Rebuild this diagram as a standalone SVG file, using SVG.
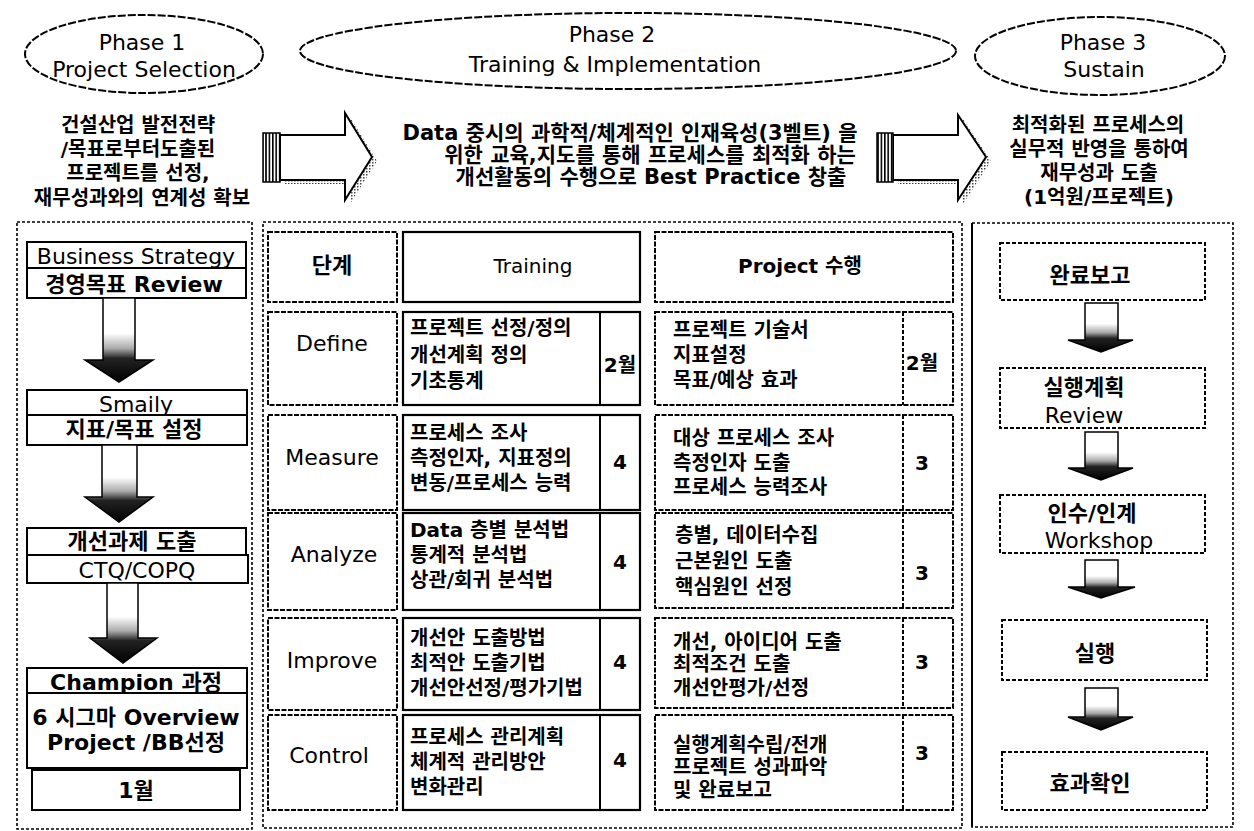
<svg xmlns="http://www.w3.org/2000/svg" width="1254" height="831" viewBox="0 0 1254 831">
<defs>
<style>
text{font-family:"DejaVu Sans","Noto Sans CJK KR",sans-serif;fill:#000;dominant-baseline:central}
.c{text-anchor:middle}
.k{font-weight:bold}
.f22{font-size:22px}
.f21{font-size:21px}
.f20{font-size:20px}
.ell{fill:#fff;stroke:#000;stroke-width:2;stroke-dasharray:8 2}
.outer{fill:none;stroke:#000;stroke-width:1.6;stroke-dasharray:3 2}
.bx{fill:#fff;stroke:#000;stroke-width:2}
.cell{fill:#fff;stroke:#000;stroke-width:2.2}
.dcell{fill:#fff;stroke:#000;stroke-width:2;stroke-dasharray:5 1.5}
.dbox{fill:#fff;stroke:#000;stroke-width:2;stroke-dasharray:4 2}
.darr{fill:url(#shaftGrad);stroke:#000;stroke-width:1.5}
.barr{fill:#fff;stroke:#000;stroke-width:2}
.bshadow{fill:url(#dots)}
.stripe{fill:url(#stripes);stroke:#000;stroke-width:1.5}
.ln{stroke:#000;stroke-width:2}
</style>
<linearGradient id="shaftGrad" x1="0" y1="0" x2="0" y2="1">
<stop offset="0" stop-color="#fff"/>
<stop offset="0.42" stop-color="#fff"/>
<stop offset="0.6" stop-color="#aaa"/>
<stop offset="0.72" stop-color="#222"/>
<stop offset="1" stop-color="#000"/>
</linearGradient>
<pattern id="dots" width="3" height="3" patternUnits="userSpaceOnUse"><rect width="1.5" height="1.5" fill="#444"/></pattern>
<pattern id="stripes" width="3.4" height="4" patternUnits="userSpaceOnUse"><rect width="3.4" height="4" fill="#fff"/><rect width="1.6" height="4" fill="#000"/></pattern>
</defs>
<rect width="1254" height="831" fill="#fff"/>

<!-- Phase headers -->
<g id="phase1">
<ellipse class="ell" cx="144" cy="54" rx="119" ry="39"/>
<text class="c f22" x="142" y="42">Phase 1</text>
<text class="c f22" x="144" y="69">Project Selection</text>
</g>
<g id="phase2">
<ellipse class="ell" cx="628" cy="51" rx="328" ry="38"/>
<text class="c f22" x="612" y="34">Phase 2</text>
<text class="c f22" x="615" y="64">Training &amp; Implementation</text>
</g>
<g id="phase3">
<ellipse class="ell" cx="1100" cy="56" rx="125" ry="39"/>
<text class="c f22" x="1103" y="42">Phase 3</text>
<text class="c f22" x="1104" y="69">Sustain</text>
</g>

<!-- Descriptions -->
<g id="desc1">
<text class="c k f20" x="138" y="125">건설산업 발전전략</text>
<text class="c k f20" x="138" y="149">/목표로부터도출된</text>
<text class="c k f20" x="138" y="173">프로젝트를 선정,</text>
<text class="c k f20" x="142" y="198">재무성과와의 연계성 확보</text>
</g>
<g id="desc2">
<text class="c k f21" x="630" y="133">Data 중시의 과학적/체계적인 인재육성(3벨트) 을</text>
<text class="c k f21" x="650" y="155">위한 교육,지도를 통해 프로세스를 최적화 하는</text>
<text class="c k f21" x="651" y="177">개선활동의 수행으로 Best Practice 창출</text>
</g>
<g id="desc3">
<text class="c k f20" x="1098" y="125">최적화된 프로세스의</text>
<text class="c k f20" x="1099" y="149">실무적 반영을 통하여</text>
<text class="c k f20" x="1099" y="173">재무성과 도출</text>
<text class="c k f20" x="1099" y="197">(1억원/프로젝트)</text>
</g>

<!-- Outer panels -->
<rect id="panel1" class="outer" x="17" y="222" width="235" height="607"/>
<rect id="panel2" class="outer" x="263" y="222" width="699" height="606"/>
<rect id="panel3" class="outer" x="972" y="223" width="261" height="604"/>
<line class="ln" x1="972" y1="223" x2="972" y2="827"/>

<!-- Left column nodes -->
<g id="bizStrategy">
<rect class="bx" x="27" y="242" width="219" height="26"/>
<rect class="bx" x="27" y="268" width="219" height="30"/>
<text class="c f22" x="136" y="256">Business Strategy</text>
<text class="c k f22" x="134" y="284">경영목표 Review</text>
</g>
<g id="smaily">
<rect class="bx" x="27" y="390" width="220" height="25"/>
<rect class="bx" x="27" y="415" width="220" height="30"/>
<text class="c f22" x="136" y="404">Smaily</text>
<text class="c k f22" x="134" y="429">지표/목표 설정</text>
</g>
<g id="improveTask">
<rect class="bx" x="27" y="528" width="219" height="27"/>
<rect class="bx" x="27" y="555" width="221" height="28"/>
<text class="c k f22" x="132" y="541">개선과제 도출</text>
<text class="c f22" x="137" y="570">CTQ/COPQ</text>
</g>
<g id="champion">
<rect class="bx" x="27" y="668" width="220" height="25"/>
<rect class="bx" x="27" y="693" width="220" height="75"/>
<rect class="bx" x="32" y="770" width="208" height="40"/>
<text class="c k f22" x="136" y="682">Champion 과정</text>
<text class="c k f22" x="136" y="717">6 시그마 Overview</text>
<text class="c k f22" x="136" y="742">Project /BB선정</text>
<text class="c k f22" x="136" y="790">1월</text>
</g>

<!-- Middle table -->
<g id="tableHeader">
<rect class="dcell" x="268" y="232" width="129" height="70"/>
<rect class="cell" x="403" y="232" width="237" height="70"/>
<rect class="dcell" x="655" y="232" width="298" height="70"/>
<text class="c k f22" x="332" y="265">단계</text>
<text class="c f20" x="533" y="266">Training</text>
<text class="c k f20" x="800" y="266">Project 수행</text>
</g>
<g id="rowDefine">
<rect class="dcell" x="268" y="312" width="129" height="93"/>
<rect class="cell" x="403" y="312" width="237" height="93"/>
<line class="ln" x1="600" y1="312" x2="600" y2="405"/>
<rect class="dcell" x="655" y="312" width="298" height="93"/>
<line class="ln" x1="903" y1="312" x2="903" y2="405" stroke-dasharray="4 2"/>
<text class="c f22" x="332" y="343">Define</text>
<text class="k f20" x="410" y="328">프로젝트 선정/정의</text>
<text class="k f20" x="410" y="355">개선계획 정의</text>
<text class="k f20" x="410" y="381">기초통계</text>
<text class="c k f20" x="620" y="365">2월</text>
<text class="k f20" x="673" y="330">프로젝트 기술서</text>
<text class="k f20" x="673" y="355">지표설정</text>
<text class="k f20" x="673" y="380">목표/예상 효과</text>
<text class="c k f20" x="922" y="363">2월</text>
</g>
<g id="rowMeasure">
<rect class="dcell" x="268" y="415" width="129" height="95"/>
<rect class="cell" x="403" y="415" width="237" height="95"/>
<line class="ln" x1="600" y1="415" x2="600" y2="510"/>
<rect class="dcell" x="655" y="415" width="298" height="95"/>
<line class="ln" x1="903" y1="415" x2="903" y2="510" stroke-dasharray="4 2"/>
<text class="c f22" x="332" y="457">Measure</text>
<text class="k f20" x="410" y="433">프로세스 조사</text>
<text class="k f20" x="410" y="458">측정인자, 지표정의</text>
<text class="k f20" x="410" y="483">변동/프로세스 능력</text>
<text class="c k f20" x="620" y="462">4</text>
<text class="k f20" x="673" y="438">대상 프로세스 조사</text>
<text class="k f20" x="673" y="463">측정인자 도출</text>
<text class="k f20" x="673" y="487">프로세스 능력조사</text>
<text class="c k f20" x="922" y="463">3</text>
</g>
<g id="rowAnalyze">
<rect class="dcell" x="268" y="513" width="129" height="97"/>
<rect class="cell" x="403" y="513" width="237" height="97"/>
<line class="ln" x1="600" y1="513" x2="600" y2="610"/>
<rect class="dcell" x="655" y="513" width="298" height="95"/>
<line class="ln" x1="903" y1="513" x2="903" y2="608" stroke-dasharray="4 2"/>
<text class="c f22" x="334" y="554">Analyze</text>
<text class="k f20" x="410" y="530">Data 층별 분석법</text>
<text class="k f20" x="410" y="555">통계적 분석법</text>
<text class="k f20" x="410" y="580">상관/회귀 분석법</text>
<text class="c k f20" x="620" y="562">4</text>
<text class="k f20" x="675" y="535">층별, 데이터수집</text>
<text class="k f20" x="675" y="561">근본원인 도출</text>
<text class="k f20" x="675" y="587">핵심원인 선정</text>
<text class="c k f20" x="922" y="573">3</text>
</g>
<g id="rowImprove">
<rect class="dcell" x="268" y="618" width="129" height="92"/>
<rect class="cell" x="403" y="618" width="237" height="92"/>
<line class="ln" x1="600" y1="618" x2="600" y2="710"/>
<rect class="dcell" x="655" y="618" width="298" height="90"/>
<line class="ln" x1="903" y1="618" x2="903" y2="708" stroke-dasharray="4 2"/>
<text class="c f22" x="332" y="660">Improve</text>
<text class="k f20" x="410" y="638">개선안 도출방법</text>
<text class="k f20" x="410" y="663">최적안 도출기법</text>
<text class="k f20" x="410" y="688">개선안선정/평가기법</text>
<text class="c k f20" x="620" y="662">4</text>
<text class="k f20" x="673" y="642">개선, 아이디어 도출</text>
<text class="k f20" x="673" y="664">최적조건 도출</text>
<text class="k f20" x="673" y="688">개선안평가/선정</text>
<text class="c k f20" x="922" y="662">3</text>
</g>
<g id="rowControl">
<rect class="dcell" x="268" y="715" width="129" height="95"/>
<rect class="cell" x="403" y="715" width="237" height="95"/>
<line class="ln" x1="600" y1="715" x2="600" y2="810"/>
<rect class="dcell" x="655" y="715" width="298" height="95"/>
<line class="ln" x1="903" y1="715" x2="903" y2="810" stroke-dasharray="4 2"/>
<text class="c f22" x="329" y="755">Control</text>
<text class="k f20" x="410" y="737">프로세스 관리계획</text>
<text class="k f20" x="410" y="762">체계적 관리방안</text>
<text class="k f20" x="410" y="787">변화관리</text>
<text class="c k f20" x="620" y="760">4</text>
<text class="k f20" x="673" y="745">실행계획수립/전개</text>
<text class="k f20" x="673" y="767">프로젝트 성과파악</text>
<text class="k f20" x="673" y="790">및 완료보고</text>
<text class="c k f20" x="922" y="753">3</text>
</g>

<!-- Right column nodes -->
<g id="report">
<rect class="dbox" x="1000" y="243" width="205" height="57"/>
<text class="c k f22" x="1090" y="275">완료보고</text>
</g>
<g id="planReview">
<rect class="dbox" x="1000" y="368" width="205" height="60"/>
<text class="c k f22" x="1084" y="387">실행계획</text>
<text class="c f22" x="1084" y="415">Review</text>
</g>
<g id="handover">
<rect class="dbox" x="1000" y="495" width="205" height="58"/>
<text class="c k f22" x="1092" y="513">인수/인계</text>
<text class="c f22" x="1099" y="540">Workshop</text>
</g>
<g id="execute">
<rect class="dbox" x="1002" y="620" width="205" height="60"/>
<text class="c k f22" x="1095" y="653">실행</text>
</g>
<g id="effect">
<rect class="dbox" x="1002" y="752" width="205" height="58"/>
<text class="c k f22" x="1090" y="783">효과확인</text>
</g>

<!-- Connectors -->
<g id="connectors">
<polygon class="bshadow" points="285,139 350,139 350,117 377,161 350,204 350,184 285,184"/>
<polygon class="barr" points="280,135 345,135 345,113 372,157 345,200 345,180 280,180"/>
<rect class="stripe" x="263" y="133" width="17" height="49"/>
<polygon class="bshadow" points="898,139 963,139 963,119 991,161 963,204 963,184 898,184"/>
<polygon class="barr" points="893,135 958,135 958,115 986,157 958,200 958,180 893,180"/>
<rect class="stripe" x="877" y="133" width="16" height="49"/>

<polygon class="darr" points="103,298 135,298 135,360 153,360 119,382 85,360 103,360"/>
<polygon class="darr" points="102,445 137,445 137,497 153,497 119,522 85,497 102,497"/>
<polygon class="darr" points="107,583 138,583 138,638 157,638 123,663 90,638 107,638"/>

<polygon class="darr" points="1085,303 1118,303 1118,340 1133,340 1101,352 1068,340 1085,340"/>
<polygon class="darr" points="1085,432 1118,432 1118,468 1133,468 1101,480 1068,468 1085,468"/>
<polygon class="darr" points="1085,560 1118,560 1118,587 1135,587 1101,598 1068,587 1085,587"/>
<polygon class="darr" points="1085,688 1118,688 1118,717 1133,717 1101,730 1068,717 1085,717"/>
</g>
</svg>
